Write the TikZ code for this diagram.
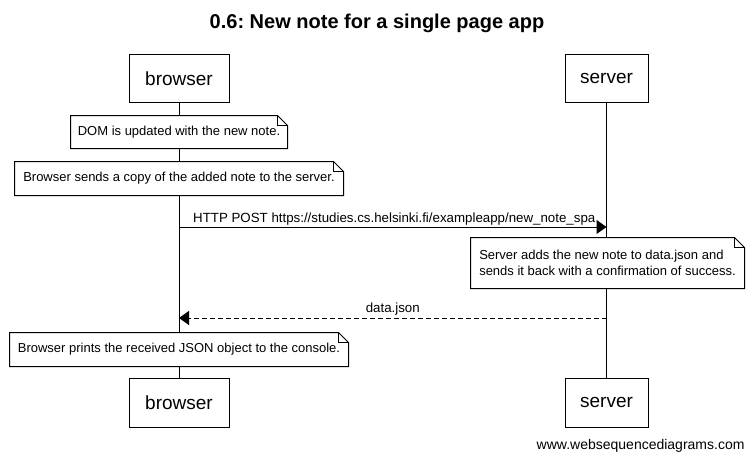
\documentclass[tikz,border=0pt]{standalone}
\usepackage{fontspec}
\setmainfont{Liberation Sans}
\usetikzlibrary{arrows.meta,calc}
\frenchspacing
\tikzset{
  x=1pt,y=-1pt,
  every path/.style={line width=1pt},
  actor/.style={draw,fill=white,minimum width=100pt,minimum height=48pt,font=\fontsize{19}{22}\selectfont,inner sep=0pt},
  notetext/.style={fill=white,inner sep=0pt,font=\fontsize{13}{16}\selectfont,align=left},
  msg/.style={-{Triangle[length=10pt,width=14pt]}},
  reply/.style={msg,dash pattern=on 5pt off 3pt},
  msglabel/.style={font=\fontsize{13.3}{16}\selectfont,inner sep=0pt,anchor=base},
}
\newcommand\notebox[1]{%
  \draw ($(#1.north west)$) -- ($(#1.north east)+(-10,0)$) -- ($(#1.north east)+(0,10)$) -- (#1.south east) -- (#1.south west) -- cycle;
  \draw ($(#1.north east)+(-10,0)$) -- ($(#1.north east)+(-10,10)$) -- ($(#1.north east)+(0,10)$);
}
\begin{document}
\begin{tikzpicture}
\useasboundingbox (0,0) rectangle (754,461);
\node[font=\bfseries\fontsize{20}{24}\selectfont] (title) at (377,23) {0.6: New note for a single page app};
% actors
\node[actor] (b1) at (179,78.5) {browser};
\node[actor,minimum width=83pt] (s1) at (606.5,78.5) {server};
\node[actor,minimum height=49pt] (b2) at (179,402.5) {browser};
\node[actor,minimum width=83pt,minimum height=49pt] (s2) at (606.5,402.5) {server};
% lifelines
\draw (b1.south) -- (b2.north);
\draw (s1.south) -- (s2.north);
% note 1
\node[notetext,minimum width=216pt,minimum height=32pt] (n1) at (179,132) {DOM is updated with the new note.};
\notebox{n1}
% note 2
\node[notetext,minimum width=328pt,minimum height=33pt] (n2) at (179,178.5) {Browser sends a copy of the added note to the server.};
\notebox{n2}
% message 1
\coordinate (m1s) at (179,227);
\coordinate (m1e) at (606.5,227);
\draw[msg] (m1s) -- (m1e);
\node[msglabel] (l1) at ($(m1s)!0.5!(m1e)+(1.5,-5)$) {HTTP POST https://studies.cs.helsinki.fi/exampleapp/new\_note\_spa};
% note 3
\node[notetext,minimum width=273pt,minimum height=50pt] (n3) at (607.5,263) {Server adds the new note to data.json and\\sends it back with a confirmation of success.};
\notebox{n3}
% message 2
\coordinate (m2s) at (606.5,318);
\coordinate (m2e) at (179,318);
\draw[reply] (m2s) -- (m2e);
\node[msglabel] (l2) at ($(m2s)!0.5!(m2e)+(0,-6)$) {data.json};
% note 4
\node[notetext,minimum width=338pt,minimum height=33pt] (n4) at (179,349.5) {Browser prints the received JSON object to the console.};
\notebox{n4}
% watermark
\node[font=\fontsize{14}{16}\selectfont,anchor=east,inner sep=0pt] (wm) at (745,446) {www.websequencediagrams.com};
\end{tikzpicture}
\end{document}
